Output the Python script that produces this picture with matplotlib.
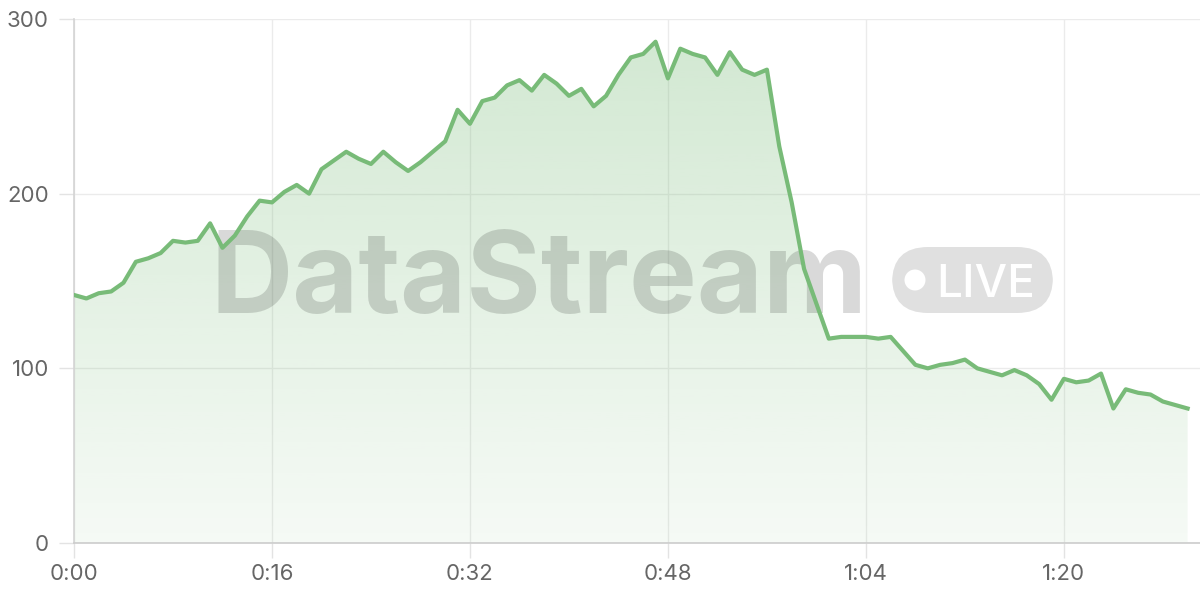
import matplotlib
matplotlib.use("Agg")
import matplotlib.pyplot as plt
import numpy as np
from matplotlib.patches import FancyBboxPatch, Ellipse

# segundos desde o início (um ponto por segundo)
segundos = list(range(91))
valores = [142, 140, 143, 144, 149, 161, 163, 166, 173, 172,
           173, 183, 169, 176, 187, 196, 195, 201, 205, 200,
           214, 219, 224, 220, 217, 224, 218, 213, 218, 224,
           230, 248, 240, 253, 255, 262, 265, 259, 268, 263,
           256, 260, 250, 256, 268, 278, 280, 287, 266, 283,
           280, 278, 268, 281, 271, 268, 271, 227, 195, 157,
           137, 117, 118, 118, 118, 117, 118, 110, 102, 100,
           102, 103, 105, 100, 98, 96, 99, 96, 91, 82,
           94, 92, 93, 97, 77, 88, 86, 85, 81, 79, 77]
xticks = [0, 16, 32, 48, 64, 80]
xtick_labels = ["0:00", "0:16", "0:32", "0:48", "1:04", "1:20"]
yticks = [0, 100, 200, 300]

verde = (120/255, 187/255, 120/255)
fonte = ["Inter", "DejaVu Sans"]

fig = plt.figure(figsize=(12, 6), dpi=100)
ax = fig.add_axes([74/1200, 57/600, 1126/1200, 524/600])
ax.set_xlim(0, 91)
ax.set_ylim(0, 300)

# grade clara
ax.set_axisbelow(True)
ax.grid(True, color="#ebebeb", linewidth=1)

# preenchimento em degradê recortado pela área sob a curva
area = ax.fill_between(segundos, valores, 0, color="none", linewidth=0)
grad = np.zeros((256, 1, 4))
grad[:, 0, :3] = verde
grad[:, 0, 3] = np.linspace(0.34, 0.07, 256)  # linha 0 = topo
img = ax.imshow(grad, extent=[0, 91, 0, 300], origin="upper", aspect="auto", zorder=1)
img.set_clip_path(area.get_paths()[0], transform=ax.transData)
ax.set_xlim(0, 91)
ax.set_ylim(0, 300)

# linha principal (acima da marca d'água)
ax.plot(segundos, valores, color=verde, linewidth=3, zorder=4,
        solid_joinstyle="round")

# marca d'água, dentro do axes para ficar abaixo da linha
tf = fig.transFigure
ax.text(210/1200, 1 - 313/600, "DataStream", fontsize=82, fontweight="bold",
        family=fonte, color=(0, 0, 0, 0.15), ha="left", va="baseline",
        transform=tf, zorder=3, clip_on=False)
ax.add_patch(FancyBboxPatch((892/1200, 1 - 313/600), 161/1200, 66/600,
                            boxstyle="round,pad=0,rounding_size=0.03",
                            transform=tf, facecolor=(0, 0, 0, 0.12),
                            edgecolor="none", mutation_aspect=2, zorder=3,
                            clip_on=False))
ax.add_patch(Ellipse((915/1200, 1 - 280/600), 21/1200, 21/600, transform=tf,
                     facecolor="white", edgecolor="none", zorder=3, clip_on=False))
ax.text(936/1200, 1 - 297/600, "LIVE", fontsize=33, fontweight="medium",
        family=fonte, color="white", ha="left", va="baseline",
        transform=tf, zorder=3, clip_on=False)

# eixos
ax.set_xticks(xticks)
ax.set_xticklabels(xtick_labels)
ax.set_yticks(yticks)
ax.tick_params(axis="both", length=11, width=1, color="#e3e3e3",
               labelcolor="#666666", labelsize=16)
ax.tick_params(axis="x", pad=4)
ax.tick_params(axis="y", pad=7)
for lbl in ax.get_xticklabels() + ax.get_yticklabels():
    lbl.set_family(fonte)
for s in ["top", "right"]:
    ax.spines[s].set_visible(False)
ax.spines["left"].set_color("#d4d4d4")
ax.spines["bottom"].set_color("#cccccc")
ax.spines["left"].set_linewidth(1.2)
ax.spines["bottom"].set_linewidth(1.2)

fig.savefig("out.png", dpi=100)
